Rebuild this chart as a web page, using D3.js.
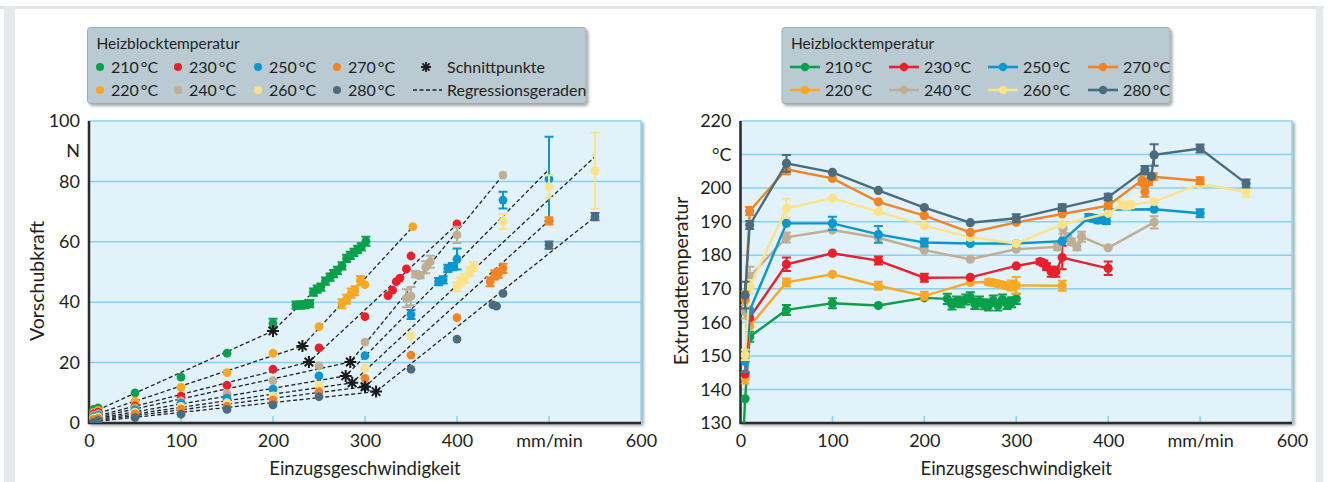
<!DOCTYPE html>
<html>
<head>
<meta charset="utf-8">
<script src="https://cdn.jsdelivr.net/npm/d3@7"></script>
<style>
body { margin: 0; background: #fff; }
svg text { font-family: Lato, "Open Sans", sans-serif; fill: #231f20; }
</style>
</head>
<body>
<div id="chart"></div>
<script>
// --- Data ---
const seriesNames = ['210\u2009°C', '220\u2009°C', '230\u2009°C', '240\u2009°C', '250\u2009°C', '260\u2009°C', '270\u2009°C', '280\u2009°C'];
const seriesColors = ['#0aa04b', '#f8a823', '#e9202a', '#bfae91', '#0a96cf', '#fde28a', '#f28423', '#4b6c7f'];

const xTicks = [0, 100, 200, 300, 400, 500, 600];
const xTickLabels = ['0', '100', '200', '300', '400', 'mm/min', '600'];
const forceTicks = [0, 20, 40, 60, 80, 90, 100];
const forceTickLabels = ['0', '20', '40', '60', '80', 'N', '100'];
const forceGrid = [20, 40, 60, 80];
const tempTicks = [130, 140, 150, 160, 170, 180, 190, 200, 210, 220];
const tempTickLabels = ['130', '140', '150', '160', '170', '180', '190', '200', '°C', '220'];
const tempGrid = [140, 150, 160, 170, 180, 190, 200, 210];

// Vorschubkraft [v, F, err]
const force210 = [[5,4.5],[10,5],[50,10],[100,15.2],[150,23.1],[200,33,1.5],[225,39,1.2],[230,39,1.2],[235,39.2,1.2],[240,39.5,1.2],[244,43.3,1.2],[248,44.3,1.2],[252,45,1.2],[257,47,1.2],[262,48.3,1.2],[266,49.5,1.2],[270,50.5,1.2],[275,52,1.2],[280,54.5,1.2],[284,55.5,1.2],[288,56.5,1.2],[292,57.5,1.2],[296,58.3,1.2],[301,60.2,1.5]];
const force220 = [[5,3.5],[10,4.2],[50,7.2],[100,11.8],[150,16.7],[200,23.1],[250,31.9],[275,39.5,1.5],[280,41,1.5],[285,43,1.5],[289,43.8,1.5],[295,47.2,1.5],[300,45.8],[352,65]];
const force230 = [[5,3],[10,3.6],[50,5.6],[100,8.9],[150,12.5],[200,17.8],[250,24.9],[300,35.2],[325,42.2],[330,44],[334,46.8],[338,48],[345,51],[350,55.3],[400,65.9]];
const force240 = [[5,2.5],[10,3],[50,5],[100,7.3],[150,9.7],[200,14],[250,18.9],[300,26.8],[345,41.3,3],[350,42,3],[355,49.3,1],[360,48.9,1],[366,51.6,2],[371,53.4,2],[400,62.3,2.7],[450,82.1]];
const force250 = [[5,2],[10,2.5],[50,4.3],[100,6.5],[150,8.2],[200,11.2],[250,15.6],[300,22.3],[350,35.9,1.5],[380,46.8,1.2],[385,47.4,1.2],[390,51.2,1.2],[395,51.8,1.2],[400,54.3,3.5],[450,73.8,2.8],[500,80.8,14]];
const force260 = [[5,1.6],[10,2],[50,3.6],[100,5.5],[150,6.7],[200,9],[250,12.6],[300,18.1],[350,28.8],[400,45.1,1.5],[404,46.8,1.5],[408,47.9,1.5],[414,50.1,1.5],[418,51.8,1.5],[450,66.7,2.5],[500,78.3,3.7],[550,83.5,12.6]];
const force270 = [[5,1.2],[10,1.5],[50,3],[100,4.6],[150,5.6],[200,7.6],[250,10.4],[300,14.8],[350,22.5],[400,34.9],[436,46.8,1.5],[441,49,1.5],[445,49.6,1.5],[450,51.2,1.5],[500,66.9,1.2]];
const force280 = [[5,0.2],[10,0.8],[50,1.8],[100,2.9],[150,4.5],[200,6],[250,8.7],[300,12],[350,17.8],[400,27.8],[439,39.1],[443,38.7],[450,42.9],[500,58.9,1.2],[550,68.3,1.2]];

// Regressionsgeraden: Start, Schnittpunkt, Ende
const regStart = [[3,3.4],[4,2.6],[4,2.0],[4,1.6],[4,1.3],[4,1.0],[4,0.7],[4,0.4]];
const schnittpunkte = [[200,30.5],[232,25.5],[239,20.2],[284,20.2],[279,15.6],[286,13.3],[300,12.0],[312,10.4]];
const regEnd = [[300,60],[352,65],[400,65.8],[450,82.1],[500,84],[550,88.2],[500,67],[550,68.3]];

// Extrudattemperatur [v, T, err]
const temp210 = [[3,125],[5,137.2],[10,155.7,1.5],[50,163.7,1.5],[100,165.7,1.5],[150,165],[200,167.3],[225,167,1.5],[230,165.3,1.5],[235,166.2,1.5],[240,166,1.5],[245,166.8,1.5],[250,167.5,1.5],[255,165.5,1.5],[260,166.2,1.5],[265,165.4,1.5],[270,165,1.5],[275,166.5,1.5],[280,165,1.5],[285,166.8,1.5],[290,165.5,1.5],[295,166,1.5],[300,167,1.5]];
const temp220 = [[5,143.3,1.5],[10,158.9],[50,171.9,1.2],[100,174.3],[150,170.9,1.2],[200,167.9,1.2],[250,171.9],[270,172,0.8],[275,171.8,0.8],[280,171.5,0.8],[285,171.2,0.8],[290,170.8,0.8],[295,171,1.5],[300,171,2.5],[350,170.9,1.5]];
const temp230 = [[5,144.6],[10,161.4],[50,177.3,2],[100,180.6],[150,178.4,1.2],[200,173.3,1.2],[250,173.4],[300,176.8],[326,178.1,0.8],[330,177.6,0.8],[333,176.6,1],[338,175.1,1.5],[343,175.1,1.5],[350,179.3,3.5],[400,176.1,2]];
const temp240 = [[5,163.2,2],[10,173.6,3],[50,185.3,1.5],[100,187.5],[150,185.2],[200,181.5],[250,178.8],[300,181.8],[345,182.5,1],[351,188,1.5],[356,185.5,1],[360,184,1],[366,182.5,1],[371,185.5,1.5],[400,182.2],[450,189.8,1.8]];
const temp250 = [[5,148.3,3],[10,163.5],[50,189.5],[100,189.5,2],[150,186.2,2.5],[200,183.8,1.2],[250,183.5],[300,183.5],[350,184.2],[379,191.3,1],[384,191,1],[389,190.5,1],[392,190.7,1],[398,190.3,1],[400,193.6],[450,193.7],[500,192.5,1.2]];
const temp260 = [[5,150.3,1.5],[10,170.6,2],[50,194,2.8],[100,197],[150,193],[200,188.8],[250,185.3],[300,183.5],[350,189.2],[400,192.5],[415,195,1],[420,194.7,1],[424,195,1],[450,196],[500,201.2],[550,198.9,1.5]];
const temp270 = [[5,166.7,2.5],[10,193.2,1.2],[50,205.6,1.5],[100,202.9],[150,195.9],[200,191.8],[250,186.8],[300,189.8],[350,192.3],[400,194.8],[437,202.4,1.5],[440,198.9,1.5],[444,201.9,1],[449,203.4,1],[500,202.2,1]];
const temp280 = [[5,168.1,4],[10,189,1.2],[50,207.4,2.5],[100,204.7],[150,199.3],[200,194.2],[250,189.7],[300,191,1.2],[350,194.2,1],[400,197.3,1],[440,205.4,1.2],[447,203.5],[450,209.9,3.2],[500,211.8,1.2],[550,201.4,1.2]];

const forceSeries = [force210, force220, force230, force240, force250, force260, force270, force280];
const tempSeries = [temp210, temp220, temp230, temp240, temp250, temp260, temp270, temp280];

// --- Setup ---
const W = 1330, H = 482;
const plotTop = 121, plotBottom = 423;

const svg = d3.select('#chart').append('svg')
    .attr('width', W).attr('height', H);
const defs = svg.append('defs');

const shadow = defs.append('filter').attr('id', 'shadow')
    .attr('x', '-5%').attr('y', '-5%').attr('width', '115%').attr('height', '120%');
shadow.append('feDropShadow')
    .attr('dx', 2).attr('dy', 2).attr('stdDeviation', 1.6)
    .attr('flood-color', '#000').attr('flood-opacity', 0.35);

// outer frame
svg.append('rect').attr('x', 0).attr('y', 6).attr('width', 1324).attr('height', 3).attr('fill', '#dfe4e8');
svg.append('rect').attr('x', 4).attr('y', 6).attr('width', 11).attr('height', H - 6).attr('fill', '#e4e9ed');
svg.append('rect').attr('x', 1316).attr('y', 6).attr('width', 7).attr('height', H - 6).attr('fill', '#e4e9ed');

function starPath(cx, cy, r) {
    let p = '';
    for (let k = 0; k < 4; k++) {
        const a = k * Math.PI / 4;
        const dx = Math.cos(a) * r, dy = Math.sin(a) * r;
        p += `M${cx - dx},${cy - dy}L${cx + dx},${cy + dy}`;
    }
    return p;
}

function drawPanel(o) {
    const x = d3.scaleLinear().domain([0, 600]).range([o.x0, o.x1]);
    const y = d3.scaleLinear().domain(o.yDomain).range([plotBottom, plotTop]);
    const g = svg.append('g');

    g.append('rect')
        .attr('x', o.x0).attr('y', plotTop)
        .attr('width', o.x1 - o.x0).attr('height', plotBottom - plotTop)
        .attr('fill', '#e1f2fa').attr('stroke', '#8dd3f0').attr('stroke-width', 1.5)
        .attr('filter', 'url(#shadow)');

    g.append('g').selectAll('line').data(o.grid).join('line')
        .attr('x1', o.x0).attr('x2', o.x1)
        .attr('y1', d => y(d)).attr('y2', d => y(d))
        .attr('stroke', '#86d0f0').attr('stroke-width', 1.5);

    // small upward x ticks
    g.append('g').selectAll('line').data(xTicks.slice(1, -1)).join('line')
        .attr('x1', d => x(d)).attr('x2', d => x(d))
        .attr('y1', plotBottom).attr('y2', plotBottom - 7)
        .attr('stroke', '#86d0f0').attr('stroke-width', 1.5);

    // axis lines
    g.append('path')
        .attr('d', `M${o.x0},${plotTop}V${plotBottom}H${o.x1}`)
        .attr('fill', 'none').attr('stroke', '#2b2b2b').attr('stroke-width', 2.5);

    const yAxis = d3.axisLeft(y).tickValues(o.yTicks)
        .tickFormat((d, i) => o.yTickLabels[i]).tickSize(0).tickPadding(9);
    g.append('g').attr('transform', `translate(${o.x0},0)`).call(yAxis)
        .attr('font-family', null).attr('font-size', 18).attr('color', '#231f20')
        .call(a => a.select('.domain').remove());

    const xAxis = d3.axisBottom(x).tickValues(xTicks)
        .tickFormat((d, i) => xTickLabels[i]).tickSize(0).tickPadding(11);
    g.append('g').attr('transform', `translate(0,${plotBottom})`).call(xAxis)
        .attr('font-family', null).attr('font-size', 18).attr('color', '#231f20')
        .call(a => a.select('.domain').remove());

    g.append('text')
        .attr('x', (o.x0 + o.x1) / 2 + 0).attr('y', 475)
        .attr('text-anchor', 'middle').attr('font-size', 18.5)
        .text('Einzugsgeschwindigkeit');

    g.append('text')
        .attr('transform', `translate(${o.yTitleX},281) rotate(-90)`)
        .attr('text-anchor', 'middle').attr('font-size', 19.5)
        .text(o.yTitle);

    const clipId = 'clip' + Math.round(o.x0);
    defs.append('clipPath').attr('id', clipId).append('rect')
        .attr('x', o.x0).attr('y', plotTop - 12)
        .attr('width', o.x1 - o.x0).attr('height', plotBottom - plotTop + 12);
    const data = g.append('g').attr('clip-path', `url(#${clipId})`);
    return { x, y, data };
}

function drawErrors(layer, pts, x, y, color) {
    const e = pts.filter(d => d[2]);
    layer.selectAll(null).data(e).join('path')
        .attr('d', d => {
            const cx = x(d[0]), y1 = y(d[1] - d[2]), y2 = y(d[1] + d[2]);
            return `M${cx},${y1}V${y2}M${cx - 4.5},${y1}H${cx + 4.5}M${cx - 4.5},${y2}H${cx + 4.5}`;
        })
        .attr('fill', 'none').attr('stroke', color).attr('stroke-width', 2);
}

// --- Left panel: Vorschubkraft ---
const L = drawPanel({
    x0: 89, x1: 641, yDomain: [0, 100], grid: forceGrid,
    yTicks: forceTicks, yTickLabels: forceTickLabels,
    yTitle: 'Vorschubkraft', yTitleX: 44
});

const regLine = d3.line().x(d => L.x(d[0])).y(d => L.y(d[1]));
L.data.selectAll('path.reg').data(schnittpunkte.map((s, i) => [regStart[i], s, regEnd[i]]))
    .join('path').attr('class', 'reg')
    .attr('d', regLine).attr('fill', 'none')
    .attr('stroke', '#222').attr('stroke-width', 1.3).attr('stroke-dasharray', '4,2.5');

forceSeries.forEach((pts, i) => {
    const layer = L.data.append('g');
    drawErrors(layer, pts, L.x, L.y, seriesColors[i]);
    layer.selectAll('circle').data(pts).join('circle')
        .attr('cx', d => L.x(d[0])).attr('cy', d => L.y(d[1])).attr('r', 4.4)
        .attr('fill', seriesColors[i]);
});

L.data.selectAll('path.star').data(schnittpunkte).join('path').attr('class', 'star')
    .attr('d', d => starPath(L.x(d[0]), L.y(d[1]), 6))
    .attr('stroke', '#1a1a1a').attr('stroke-width', 2);

// --- Right panel: Extrudattemperatur ---
const R = drawPanel({
    x0: 740.5, x1: 1292, yDomain: [130, 220], grid: tempGrid,
    yTicks: tempTicks, yTickLabels: tempTickLabels,
    yTitle: 'Extrudattemperatur', yTitleX: 688
});

const tempLine = d3.line().x(d => R.x(d[0])).y(d => R.y(d[1]));
tempSeries.forEach((pts, i) => {
    const layer = R.data.append('g');
    layer.append('path').datum(pts).attr('d', tempLine)
        .attr('fill', 'none').attr('stroke', seriesColors[i]).attr('stroke-width', 2.4);
    drawErrors(layer, pts, R.x, R.y, seriesColors[i]);
    layer.selectAll('circle').data(pts).join('circle')
        .attr('cx', d => R.x(d[0])).attr('cy', d => R.y(d[1])).attr('r', 4.6)
        .attr('fill', seriesColors[i]);
});

// --- Legends ---
function legendBox(x, y, w, h) {
    const g = svg.append('g');
    g.append('rect').attr('x', x).attr('y', y).attr('width', w).attr('height', h).attr('rx', 3)
        .attr('fill', '#b9cad3').attr('stroke', '#98adb8').attr('stroke-width', 1)
        .attr('filter', 'url(#shadow)');
    g.append('text').attr('x', x + 9).attr('y', y + 21).attr('font-size', 15.5).text('Heizblocktemperatur');
    return g;
}

const legRows = [67, 90];

const lg1 = legendBox(87.5, 27.5, 498.5, 76);
const dotCols = [100, 178, 258, 337];
seriesNames.forEach((name, i) => {
    const cx = dotCols[Math.floor(i / 2)], cy = legRows[i % 2];
    lg1.append('circle').attr('cx', cx).attr('cy', cy).attr('r', 4).attr('fill', seriesColors[i]);
    lg1.append('text').attr('x', cx + 11).attr('y', cy).attr('dy', '0.36em')
        .attr('font-size', 16).text(name);
});
lg1.append('path').attr('d', starPath(426, legRows[0], 5)).attr('stroke', '#1a1a1a').attr('stroke-width', 1.8);
lg1.append('text').attr('x', 447).attr('y', legRows[0]).attr('dy', '0.36em').attr('font-size', 16).text('Schnittpunkte');
lg1.append('line').attr('x1', 413).attr('x2', 442).attr('y1', legRows[1]).attr('y2', legRows[1])
    .attr('stroke', '#222').attr('stroke-width', 1.3).attr('stroke-dasharray', '4,2.5');
lg1.append('text').attr('x', 447).attr('y', legRows[1]).attr('dy', '0.36em').attr('font-size', 16).text('Regressionsgeraden');

const lg2 = legendBox(782, 27.5, 388, 76);
const lineCols = [790, 889, 988, 1088];
seriesNames.forEach((name, i) => {
    const lx = lineCols[Math.floor(i / 2)], cy = legRows[i % 2];
    lg2.append('line').attr('x1', lx).attr('x2', lx + 30).attr('y1', cy).attr('y2', cy)
        .attr('stroke', seriesColors[i]).attr('stroke-width', 2.6);
    lg2.append('circle').attr('cx', lx + 15).attr('cy', cy).attr('r', 4.2).attr('fill', seriesColors[i]);
    lg2.append('text').attr('x', lx + 35).attr('y', cy).attr('dy', '0.36em')
        .attr('font-size', 16).text(name);
});
</script>
</body>
</html>
